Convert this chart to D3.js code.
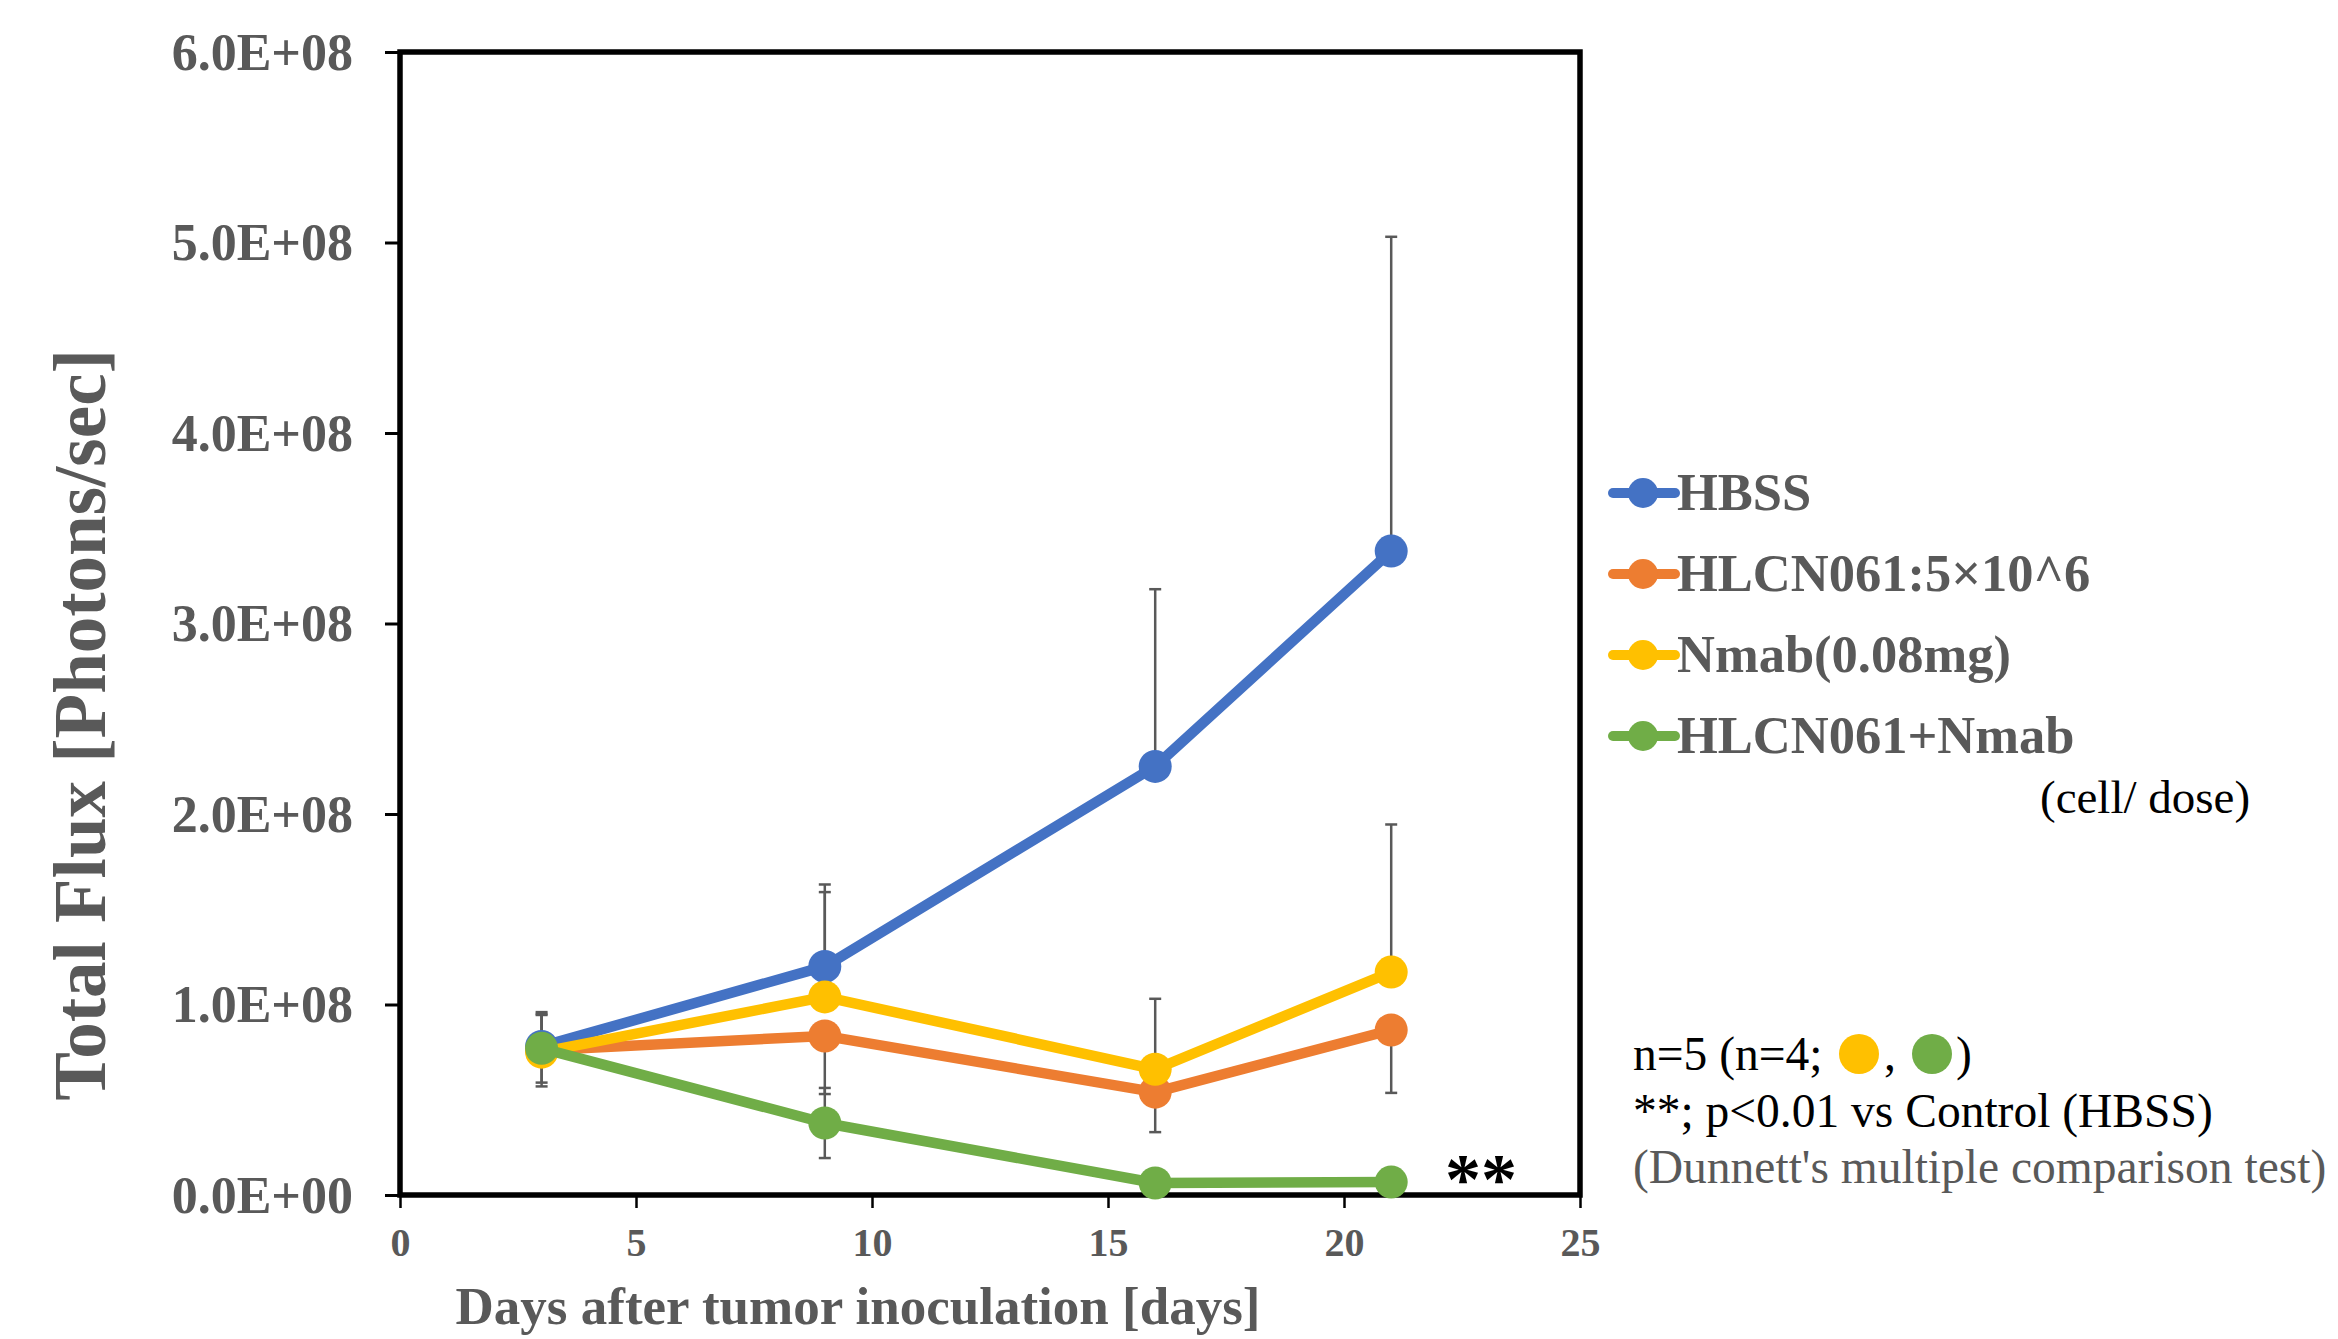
<!DOCTYPE html>
<html>
<head>
<meta charset="utf-8">
<script src="https://cdn.jsdelivr.net/npm/d3@7"></script>
<style>
  body { margin: 0; background: #fff; }
  svg { display: block; }
  text { font-family: "Liberation Serif", "Times New Roman", serif; }
</style>
</head>
<body>
<div id="chart"></div>
<script>
// data
const days = [3, 9, 16, 21];
const seriesNames = ['HBSS', 'HLCN061:5×10^6', 'Nmab(0.08mg)', 'HLCN061+Nmab'];
const seriesColors = ['#4472C4', '#ED7D31', '#FFC000', '#70AD47'];

const hbss = [0.78e8, 1.20e8, 2.25e8, 3.38e8];
const hlcn = [0.76e8, 0.835e8, 0.54e8, 0.866e8];
const nmab = [0.75e8, 1.04e8, 0.66e8, 1.17e8];
const combo = [0.77e8, 0.378e8, 0.063e8, 0.068e8];

// error bars (only the visible side of each bar)
const hbssErrUp = [0.18e8, 0.43e8, 0.93e8, 1.65e8];
const hbssErrDown = [0, 0, 0, 0];
const hlcnErrUp = [0, 0, 0, 0];
const hlcnErrDown = [0.19e8, 0.305e8, 0.21e8, 0.33e8];
const nmabErrUp = [0.195e8, 0.55e8, 0.37e8, 0.775e8];
const nmabErrDown = [0, 0, 0, 0];
const comboErrUp = [0.18e8, 0.184e8, 0.02e8, 0.01e8];
const comboErrDown = [0.18e8, 0.184e8, 0.02e8, 0.01e8];

const yTicks = [0, 1e8, 2e8, 3e8, 4e8, 5e8, 6e8];
const xTicks = [0, 5, 10, 15, 20, 25];

const series = [
  {name: seriesNames[0], color: seriesColors[0], values: hbss, up: hbssErrUp, down: hbssErrDown},
  {name: seriesNames[1], color: seriesColors[1], values: hlcn, up: hlcnErrUp, down: hlcnErrDown},
  {name: seriesNames[2], color: seriesColors[2], values: nmab, up: nmabErrUp, down: nmabErrDown},
  {name: seriesNames[3], color: seriesColors[3], values: combo, up: comboErrUp, down: comboErrDown}
];

const grey = '#595959';
const W = 2338, H = 1339;
const plot = {left: 400, right: 1580, top: 52, bottom: 1195};

const svg = d3.select('#chart').append('svg')
  .attr('width', W)
  .attr('height', H);

const x = d3.scaleLinear().domain([0, 25]).range([plot.left, plot.right]);
const y = d3.scaleLinear().domain([0, 6e8]).range([plot.bottom, plot.top]);

// y axis
const yAxis = svg.append('g')
  .attr('transform', `translate(${plot.left},0)`)
  .call(d3.axisLeft(y).tickValues(yTicks).tickSize(15).tickPadding(32)
    .tickFormat(d => d === 0 ? '0.0E+00' : (d / 1e8).toFixed(1) + 'E+08'));
yAxis.select('.domain').remove();
yAxis.selectAll('line').attr('stroke', '#000').attr('stroke-width', 3);
yAxis.selectAll('text')
  .attr('fill', grey)
  .attr('font-size', 52)
  .attr('font-weight', 'bold')
  .attr('font-family', '"Liberation Serif", "Times New Roman", serif')
  .attr('dy', '0.33em');

// x axis
const xAxis = svg.append('g')
  .attr('transform', `translate(0,${plot.bottom})`)
  .call(d3.axisBottom(x).tickValues(xTicks).tickSize(13).tickPadding(20));
xAxis.select('.domain').remove();
xAxis.selectAll('line').attr('stroke', '#000').attr('stroke-width', 2.5);
xAxis.selectAll('text')
  .attr('fill', grey)
  .attr('font-size', 40)
  .attr('font-weight', 'bold')
  .attr('font-family', '"Liberation Serif", "Times New Roman", serif');

// plot frame
svg.append('rect')
  .attr('x', plot.left)
  .attr('y', plot.top)
  .attr('width', plot.right - plot.left)
  .attr('height', plot.bottom - plot.top)
  .attr('fill', 'none')
  .attr('stroke', '#000')
  .attr('stroke-width', 5.5);

// error bars underneath everything
const capHalf = 6;
series.forEach(s => {
  const g = svg.append('g').attr('stroke', grey).attr('stroke-width', 2.5);
  days.forEach((d, i) => {
    const cx = x(d);
    [[s.up[i], 1], [s.down[i], -1]].forEach(([e, dir]) => {
      if (!e) return;
      const yEnd = y(s.values[i] + dir * e);
      g.append('line').attr('x1', cx).attr('x2', cx).attr('y1', y(s.values[i])).attr('y2', yEnd);
      g.append('line').attr('x1', cx - capHalf).attr('x2', cx + capHalf).attr('y1', yEnd).attr('y2', yEnd);
    });
  });
});

// lines + markers
const line = d3.line().x((d, i) => x(days[i])).y(d => y(d));
series.forEach(s => {
  svg.append('path')
    .datum(s.values)
    .attr('d', line)
    .attr('fill', 'none')
    .attr('stroke', s.color)
    .attr('stroke-width', 10.5)
    .attr('stroke-linejoin', 'round');
  svg.append('g').selectAll('circle')
    .data(s.values)
    .join('circle')
    .attr('cx', (d, i) => x(days[i]))
    .attr('cy', d => y(d))
    .attr('r', 16.5)
    .attr('fill', s.color);
});

// significance marker
svg.append('text')
  .attr('x', 1445)
  .attr('y', 1203)
  .attr('font-family', '"Liberation Sans", Arial, sans-serif')
  .attr('font-weight', 'bold')
  .attr('font-size', 72)
  .attr('fill', '#000')
  .text('**');

// axis titles
svg.append('text')
  .attr('transform', 'translate(105,725) rotate(-90)')
  .attr('text-anchor', 'middle')
  .attr('font-size', 73)
  .attr('font-weight', 'bold')
  .attr('fill', grey)
  .text('Total Flux [Photons/sec]');

svg.append('text')
  .attr('x', 858)
  .attr('y', 1324)
  .attr('text-anchor', 'middle')
  .attr('font-size', 53)
  .attr('font-weight', 'bold')
  .attr('fill', grey)
  .text('Days after tumor inoculation [days]');

// legend
const legend = svg.append('g');
series.forEach((s, i) => {
  const ly = 493 + i * 81;
  legend.append('line')
    .attr('x1', 1613).attr('x2', 1675)
    .attr('y1', ly).attr('y2', ly)
    .attr('stroke', s.color).attr('stroke-width', 10).attr('stroke-linecap', 'round');
  legend.append('circle').attr('cx', 1643).attr('cy', ly).attr('r', 15).attr('fill', s.color);
  legend.append('text')
    .attr('x', 1677).attr('y', ly + 17)
    .attr('font-size', 52.5).attr('font-weight', 'bold').attr('fill', grey)
    .text(s.name);
});
legend.append('text')
  .attr('x', 2040).attr('y', 813)
  .attr('font-size', 47).attr('fill', '#000')
  .text('(cell/ dose)');

// notes
const notes = svg.append('g').attr('font-size', 47.5);
notes.append('text').attr('x', 1633).attr('y', 1070).attr('fill', '#000').text('n=5 (n=4; ');
notes.append('circle').attr('cx', 1859).attr('cy', 1054).attr('r', 20).attr('fill', seriesColors[2]);
notes.append('text').attr('x', 1884).attr('y', 1070).attr('fill', '#000').text(',');
notes.append('circle').attr('cx', 1932).attr('cy', 1054).attr('r', 20).attr('fill', seriesColors[3]);
notes.append('text').attr('x', 1956).attr('y', 1070).attr('fill', '#000').text(')');
notes.append('text').attr('x', 1633).attr('y', 1127).attr('fill', '#000').text('**; p<0.01 vs Control (HBSS)');
notes.append('text').attr('x', 1633).attr('y', 1183).attr('fill', grey).text("(Dunnett's multiple comparison test)");
</script>
</body>
</html>
